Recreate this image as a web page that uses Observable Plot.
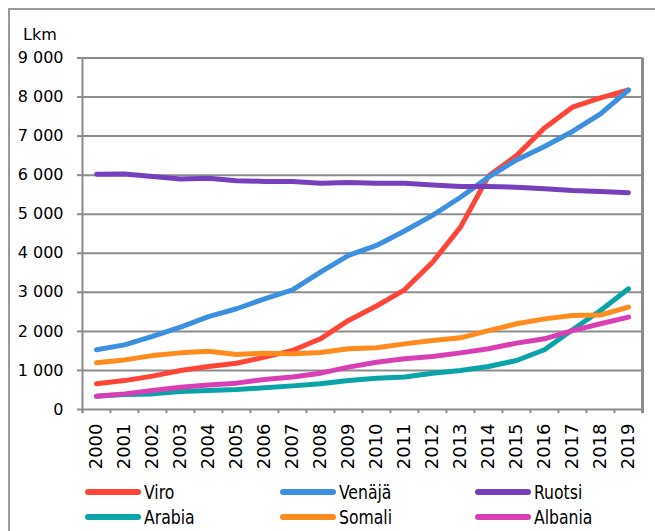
<!DOCTYPE html>
<html>
<head>
<meta charset="utf-8">
<script src="https://cdn.jsdelivr.net/npm/d3@7"></script>
<script src="https://cdn.jsdelivr.net/npm/@observablehq/plot@0.6"></script>
<style>
  html, body { margin: 0; padding: 0; background: #fff; }
  body { width: 655px; height: 531px; position: relative; overflow: hidden; font-family: "DejaVu Sans", sans-serif; }
  #chart { position: absolute; left: 0; top: 0; }
  #chart svg { overflow: visible; }
  #chart g[aria-label^="x-axis"] text { font-size: 18px; }
  #chart g[aria-label^="y-axis"] text { font-size: 16px; }
  #chart g[aria-label^="y-axis"] line, #chart g[aria-label^="y-axis"] path { stroke: #8c8c8c; stroke-width: 2; }
  .frameL { position: absolute; left: 8px; top: 8px; width: 2px; height: 530px; background: #9a9a9a; }
  .frameT { position: absolute; left: 8px; top: 8px; width: 660px; height: 2px; background: #9a9a9a; }
  .unit { position: absolute; left: 23px; top: 25px; font-size: 16px; font-family: "DejaVu Sans", sans-serif; }
  .leg { position: absolute; display: flex; align-items: center; font-family: "DejaVu Sans Condensed", "DejaVu Sans", sans-serif; font-size: 20px; white-space: nowrap; }
  .leg svg { margin-right: 2px; }
  .leg span { display: inline-block; transform: scaleX(0.87); transform-origin: left center; }
</style>
</head>
<body>
<div class="frameL"></div>
<div class="frameT"></div>
<div class="unit">Lkm</div>
<div id="chart"></div>
<div id="legend"></div>
<script>
const years = [2000, 2001, 2002, 2003, 2004, 2005, 2006, 2007, 2008, 2009, 2010, 2011, 2012, 2013, 2014, 2015, 2016, 2017, 2018, 2019];
const viro    = [660, 740, 855, 1000, 1100, 1185, 1340, 1510, 1810, 2280, 2650, 3065, 3770, 4670, 5980, 6500, 7210, 7740, 7980, 8180];
const venaja  = [1530, 1655, 1870, 2110, 2380, 2580, 2835, 3065, 3515, 3945, 4200, 4570, 4970, 5435, 5950, 6390, 6735, 7120, 7570, 8180];
const ruotsi  = [6025, 6030, 5965, 5900, 5920, 5860, 5840, 5840, 5795, 5810, 5790, 5795, 5750, 5710, 5710, 5690, 5650, 5605, 5580, 5550];
const arabia  = [340, 385, 400, 460, 485, 510, 555, 605, 660, 740, 800, 830, 930, 1000, 1100, 1255, 1530, 2040, 2535, 3090];
const somali  = [1195, 1270, 1380, 1450, 1490, 1410, 1440, 1425, 1460, 1555, 1580, 1680, 1765, 1835, 2020, 2195, 2320, 2405, 2420, 2620];
const albania = [340, 400, 485, 570, 630, 675, 770, 830, 930, 1085, 1210, 1300, 1355, 1450, 1555, 1700, 1810, 2020, 2195, 2365];

const seriesNames = ["Viro", "Venäjä", "Ruotsi", "Arabia", "Somali", "Albania"];
const seriesValues = [viro, venaja, ruotsi, arabia, somali, albania];
const seriesColors = ["#ff4438", "#3d8fe0", "#7640bd", "#0aa3a8", "#ff8c1f", "#d93fb4"];
const yTicks = [0, 1000, 2000, 3000, 4000, 5000, 6000, 7000, 8000, 9000];

const data = seriesNames.flatMap((name, i) => years.map((year, j) => ({name, year, value: seriesValues[i][j]})));
const bounds = years.map(y => y - 0.5).concat([years[years.length - 1] + 0.5]);
const fmt = d => d3.format(",")(d).replace(/,/g, " ");
const gray = "#8c8c8c";

const chart = Plot.plot({
  width: 655,
  height: 480,
  marginLeft: 82,
  marginRight: 13,
  marginTop: 57.5,
  marginBottom: 71,
  style: {fontFamily: "DejaVu Sans, sans-serif", fontSize: "16px", color: "#000", background: "transparent", overflow: "visible"},
  x: {type: "linear", domain: [bounds[0], bounds[bounds.length - 1]], ticks: years, tickFormat: d => String(d), tickRotate: -90, tickSize: 0, tickPadding: 14, label: null},
  y: {domain: [0, 9000], ticks: yTicks, tickFormat: fmt, tickSize: 5, tickPadding: 14, label: null},
  color: {domain: seriesNames, range: seriesColors},
  marks: [
    Plot.ruleY(yTicks, {x1: bounds[0], x2: bounds[bounds.length - 1], stroke: gray, strokeWidth: 2, strokeOpacity: 1}),
    Plot.ruleX(bounds, {y1: 0, y2: -105, stroke: gray, strokeWidth: 2, strokeOpacity: 1}),
    Plot.ruleX([bounds[0]], {y1: -105, y2: 9000, stroke: gray, strokeWidth: 2, strokeOpacity: 1}),
    Plot.ruleX([bounds[bounds.length - 1]], {y1: -105, y2: 9000, stroke: gray, strokeWidth: 3, strokeOpacity: 1}),
    Plot.line(data, {x: "year", y: "value", z: "name", stroke: "name", strokeWidth: 5, strokeLinecap: "round", strokeLinejoin: "round"})
  ]
});
document.getElementById("chart").appendChild(chart);

const legend = document.getElementById("legend");
const colX = [84, 279, 474];
const rowY = [492, 517];
seriesNames.forEach((name, i) => {
  const d = document.createElement("div");
  d.className = "leg";
  d.style.left = colX[i % 3] + "px";
  d.style.top = (rowY[Math.floor(i / 3)] - 13) + "px";
  d.style.height = "26px";
  d.innerHTML = `<svg width="58" height="10"><line x1="4" y1="5" x2="54" y2="5" stroke="${seriesColors[i]}" stroke-width="6" stroke-linecap="round"/></svg><span>${name}</span>`;
  legend.appendChild(d);
});
</script>
</body>
</html>
